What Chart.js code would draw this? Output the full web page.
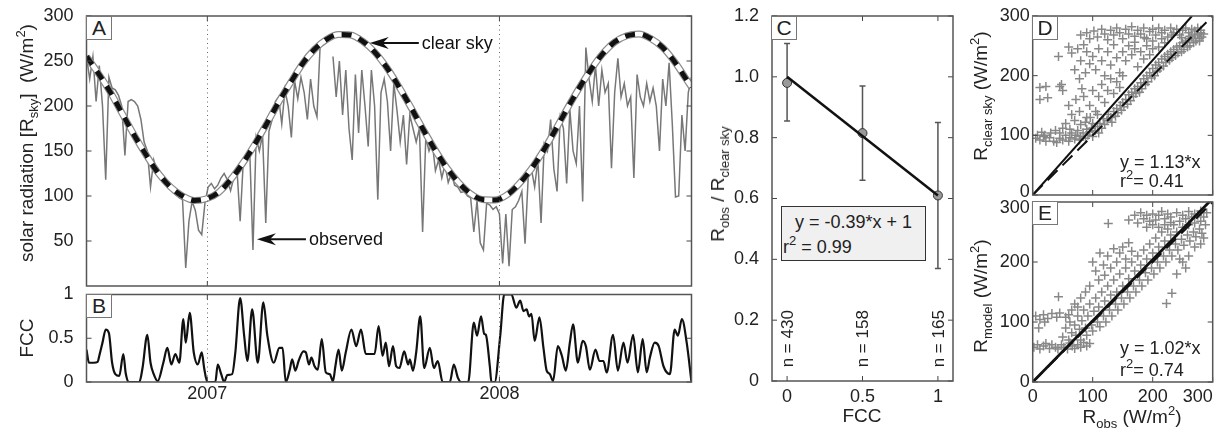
<!DOCTYPE html>
<html>
<head>
<meta charset="utf-8">
<script src="https://cdn.jsdelivr.net/npm/chart.js@4.4.1/dist/chart.umd.min.js"></script>
<style>
  body { margin: 0; background: #fff; }
  #fig { position: relative; width: 1221px; height: 435px; overflow: hidden;
         font-family: "Liberation Sans", Arial, sans-serif; color: #222; }
  #fig canvas { position: absolute; }
  .t { position: absolute; white-space: nowrap; font-size: 18px; line-height: 20px; }
  .c { transform: translate(-50%, -50%); }
  .rot { transform: translate(-50%, -50%) rotate(-90deg); }
  .t sub { font-size: 13px; vertical-align: -5px; line-height: 0; }
  .t sup { font-size: 13px; vertical-align: 8px; line-height: 0; }
  .tag { position: absolute; box-sizing: border-box; width: 26px; height: 24px; border: 1px solid #777;
         background: #fff; font-size: 21px; line-height: 22px; text-align: center; }
  .eq { position: absolute; box-sizing: border-box; left: 781px; top: 206px; width: 145px; height: 55px;
        border: 1px solid #333; background: #f0f0f0; }
</style>
</head>
<body>
<div id="fig">
  <canvas id="chartA" width="700" height="290" style="left:0;top:0"></canvas>
  <canvas id="chartB" width="700" height="155" style="left:0;top:280px"></canvas>
  <canvas id="chartC" width="260" height="435" style="left:700px;top:0"></canvas>
  <canvas id="chartD" width="261" height="215" style="left:960px;top:0"></canvas>
  <canvas id="chartE" width="261" height="245" style="left:960px;top:190px"></canvas>

  <div class="t rot" style="left:27px;top:143px;font-size:19px">solar radiation [R<sub>sky</sub>]&nbsp; (W/m<sup>2</sup>)</div>
  <div class="t rot" style="left:27px;top:338px;font-size:19px">FCC</div>
  <div class="t rot" style="left:718px;top:184px;font-size:19px">R<sub>obs</sub> / R<sub>clear sky</sub></div>
  <div class="t c" style="left:862px;top:416px;font-size:19px">FCC</div>
  <div class="t rot" style="left:981px;top:96px;font-size:19px">R<sub>clear sky</sub> (W/m<sup>2</sup>)</div>
  <div class="t rot" style="left:981px;top:296px;font-size:19px">R<sub>model</sub> (W/m<sup>2</sup>)</div>
  <div class="t c" style="left:1132px;top:417px;font-size:19px">R<sub>obs</sub> (W/m<sup>2</sup>)</div>

  <div class="tag" style="left:86px;top:16px">A</div>
  <div class="tag" style="left:86px;top:294px">B</div>
  <div class="tag" style="left:771px;top:16px">C</div>
  <div class="tag" style="left:1032px;top:16px">D</div>
  <div class="tag" style="left:1032px;top:201px">E</div>

  <div class="eq"></div>
  <div class="t" style="left:795px;top:212px">y = -0.39*x + 1</div>
  <div class="t" style="left:783px;top:237px">r<sup>2</sup> = 0.99</div>
  <div class="t" style="left:1120px;top:152px">y = 1.13*x</div>
  <div class="t" style="left:1120px;top:171px">r<sup>2</sup>= 0.41</div>
  <div class="t" style="left:1120px;top:338px">y = 1.02*x</div>
  <div class="t" style="left:1120px;top:360px">r<sup>2</sup>= 0.74</div>
</div>

<script>
const FONT = '"Liberation Sans", Arial, sans-serif';

// ---- panels A/B: x is days since early Aug 2006 ----
const dayMax = 756;
const yearDays = [151, 516];
const yearLabels = ['2007', '2008'];
const aYTicks = [50, 100, 150, 200, 250, 300];
const bYTicks = [0, 0.5, 1];

// observed radiation, one value every 4 days (null = no data)
const obsStep = 4;
const observed = [
  255, 230, 255, 205, 245, 200, 118, 232, 220, 218,
  212, 200, 145, 205, 207, 205, 200, 185, 160, 150,
  110, 140, 128, 122, 117, 112, 108, 104, 101, 98,
  96, 20, 72, 94, 84, 62, 57, 92, 110, 114,
  108, 112, 120, 125, 118, 106, 120, 130, 72, 140,
  147, 150, 40, 165, 150, 168, 70, 172, 185, 205,
  210, 180, 218, 200, 165, 228, 208, 232, 215, 185,
  230, 200, 188, 268, null, null, null, 255, 210, 250,
  190, 240, 175, 140, 235, 170, 240, 200, 155, 240,
  200, 96, 215, 230, 205, 150, 225, 195, 160, 190,
  135, 190, 175, 160, 175, 60, 165, 150, 160, 128,
  140, 120, 135, 115, 125, 112, 110, 104, 105, 100,
  98, 60, 95, 48, 40, 92, 90, 85, 88, 80,
  25, 80, 22, 85, 88, 95, 105, 47, 122, 130,
  110, 140, 70, 158, 150, 185, 130, 105, 188, 175,
  114, 196, 150, 136, 200, 94, 265, 230, 205, 245,
  200, 240, 215, 225, 131, 215, 253, 210, 225, 200,
  210, 120, 235, 210, 200, 225, 205, 220, 200, 150,
  230, 200, 248, 180, 99, 100, 190, 150, 215, 232
];

const clearDays = [0, 15, 30, 45, 60, 75, 90, 105, 120, 135, 150, 165, 180, 195, 210, 225, 240, 255,
  270, 285, 300, 315, 330, 345, 360, 375, 390, 405, 420, 435, 450, 465, 480, 495, 510, 525, 540,
  555, 570, 585, 600, 615, 630, 645, 660, 675, 690, 705, 720, 735, 750, 756];
const clearSky = [255, 236, 215, 191, 167, 145, 125, 110, 100, 95, 97, 104, 118, 136, 157, 180, 204, 226,
  247, 263, 274, 279.5, 279, 272, 260, 243, 222, 199, 175, 152, 131.5, 115, 102.5, 96, 95.5, 101, 113,
  129, 149, 172, 196, 219, 240, 258, 271, 278, 280, 275, 265, 249, 229, 221];

const fccDays = [0, 3, 9, 14, 16, 20, 24, 28, 32, 36, 41, 46, 49, 53, 66, 70, 76, 80, 84, 89, 96, 101,
  106, 111, 116, 121, 124, 129, 134, 139, 144, 147, 151, 161, 164, 168, 172, 176, 182, 186, 192, 197,
  201, 207, 214, 221, 226, 234, 241, 245, 249, 254, 257, 261, 265, 271, 274, 278, 281, 285, 289, 294,
  299, 304, 308, 311, 315, 319, 324, 331, 337, 343, 349, 360, 365, 370, 374, 378, 383, 387, 391, 397,
  402, 404, 408, 412, 417, 422, 429, 434, 439, 445, 454, 459, 464, 468, 477, 484, 488, 493, 497, 499,
  504, 506, 510, 517, 522, 531, 537, 542, 546, 550, 553, 556, 560, 566, 571, 575, 579, 583, 589, 594,
  599, 604, 608, 614, 620, 624, 629, 636, 641, 646, 650, 658, 664, 671, 676, 683, 689, 695, 700, 704,
  710, 715, 721, 729, 735, 739, 744, 750, 756];
const fcc = [0.37, 0.22, 0.22, 0.23, 0.3, 0.45, 0.6, 0.56, 0.22, 0.09, 0.07, 0.32, 0.1, 0, 0, 0.16, 0.54,
  0.22, 0.09, 0.01, 0.22, 0.39, 0.2, 0.32, 0.22, 0.72, 0.45, 0.79, 0.34, 0.2, 0.34, 0.16, 0, 0, 0.2, 0.1,
  0, 0.08, 0.09, 0.34, 0.96, 0.53, 0.24, 0.83, 0.22, 0.91, 0.53, 0.22, 0.39, 0.39, 0, 0.14, 0.26, 0.13,
  0.24, 0.35, 0.34, 0.2, 0.28, 0.18, 0.14, 0.49, 0.11, 0.09, 0.01, 0.18, 0.37, 0.13, 0.34, 0.6, 0.41,
  0.6, 0.32, 0.32, 0.64, 0.3, 0.45, 0.18, 0.41, 0.18, 0.16, 0.35, 0.2, 0.26, 0.13, 0.34, 0.75, 0.16,
  0.39, 0.16, 0.24, 0, 0, 0.2, 0.05, 0, 0, 0.68, 0.53, 0.75, 0.55, 0.54, 0.18, 0, 0, 0.53, 1, 1, 0.85,
  0.93, 0.81, 0.83, 0.75, 0.78, 0.47, 0.74, 0.39, 0.13, 0.09, 0.01, 0.41, 0.3, 0.13, 0.45, 0.66, 0.22,
  0.47, 0.41, 0.14, 0.37, 0.24, 0.24, 0.11, 0.54, 0.13, 0.45, 0.22, 0.54, 0.11, 0.49, 0.11, 0.28, 0.45,
  0.41, 0.18, 0.09, 0.6, 0.53, 0.72, 0.45, 0];

// arrows in panel A
const noteDays = [354, 213];
const noteValues = [270, 52];
const noteTexts = ['clear sky', 'observed'];

// ---- panel C ----
const cFcc = [0, 0.5, 1];
const cRatio = [0.98, 0.815, 0.61];
const cErrLow = [0.855, 0.66, 0.37];
const cErrHigh = [1.11, 0.97, 0.85];
const cCounts = [430, 158, 165];
const cSlope = -0.39;
const cIntercept = 1;
const cXTicks = [0, 0.5, 1];
const cYTicks = [0, 0.2, 0.4, 0.6, 0.8, 1.0, 1.2];

// ---- panels D/E ----
const sqMax = 300;
const sqTicks = [0, 100, 200, 300];
const dSlope = 1.13;
const eSlope = 1.02;
// [R_obs, R_clear sky]
const dPairs = [
  [5,95],[8,100],[12,92],[15,105],[18,98],[22,90],[28,96],[35,90],[40,88],[45,95],[50,92],[55,100],
  [60,90],[62,96],[65,104],[70,94],[72,100],[75,108],[78,92],[80,98],[84,104],[88,95],[90,110],[92,100],
  [95,106],[98,112],[100,98],[104,108],[108,115],[110,104],
  [112,120],[115,112],[118,128],[120,118],[124,125],[126,135],[130,130],[132,122],[135,140],[138,132],
  [140,145],[142,138],[146,150],[148,142],[150,155],[152,148],[155,160],[158,152],[160,168],[163,158],
  [165,172],[168,165],[170,178],[172,170],[175,182],[178,172],[180,188],[182,178],[185,195],[188,185],
  [190,200],[192,190],[195,205],[198,196],[200,212],[203,200],[205,218],[208,208],[210,222],[212,212],
  [215,228],[218,216],[220,232],[222,222],[225,236],[228,226],[230,240],[232,230],[235,244],[238,234],
  [240,248],[242,238],[245,250],[248,240],[250,255],[252,244],[255,258],[258,248],[260,262],[262,250],
  [265,265],[268,255],[270,268],[272,258],[275,270],[278,262],[280,272],[282,265],
  [80,268],[90,272],[95,262],[102,275],[108,265],[115,278],[120,270],[125,260],[130,276],[135,268],
  [140,280],[145,272],[150,262],[155,278],[160,270],[165,282],[170,266],[175,276],[180,270],[185,280],
  [190,262],[195,274],[200,278],[205,268],[210,280],[215,272],[220,276],[225,265],[230,280],[235,272],
  [240,278],[245,268],[250,276],[255,280],[260,272],[265,278],[270,275],[275,280],[280,276],[285,270],
  [215,262],[232,268],[248,264],[262,266],[278,258],[200,258],[186,264],[170,256],
  [43,232],[12,180],[22,182],[45,182],[12,160],[25,163],[50,175],[48,185],[60,248],[65,238],[75,245],
  [80,225],[85,252],[90,240],[70,210],[78,195],[82,178],[88,205],[95,220],[100,232],[105,210],[110,245],
  [115,225],[120,200],[125,240],[130,218],[135,252],[140,230],[145,205],[150,240],[155,225],[160,250],
  [165,235],[170,245],[175,215],[180,240],[185,228],[190,250],[195,235],[200,245],[210,248],[220,255],
  [60,150],[65,135],[72,160],[78,140],[85,165],[90,130],[95,150],[100,175],[105,140],[110,165],[115,185],
  [120,155],[125,175],[130,195],[135,170],[140,190],[145,180],[150,200],[55,120],[62,110],[70,125],
  [80,118],[88,122],[96,130],[100,120],[108,135],[20,100],[30,104],[38,108],[45,104],[50,112]
];
// [R_obs, R_model]
const ePairs = [
  [2,58],[8,62],[12,55],[18,60],[22,64],[28,56],[32,62],[38,58],[42,55],[48,62],[52,58],[58,55],
  [62,65],[66,60],[70,56],[75,62],[80,58],[85,66],[90,60],[95,64],
  [5,110],[12,104],[18,112],[25,106],[32,114],[40,108],[45,115],[43,142],[20,100],[10,90],
  [50,75],[55,90],[60,70],[62,100],[65,82],[70,95],[72,78],[75,110],[78,88],[80,70],[82,102],[85,120],
  [88,90],[90,78],[92,110],[95,130],[98,95],[100,85],[102,118],[105,140],[108,100],[110,125],[112,92],
  [115,150],[118,110],[120,135],[122,100],[125,160],[128,120],[130,145],[132,110],[135,170],[138,130],
  [140,150],[142,120],[145,180],[148,140],[150,160],[152,130],[155,190],[158,150],[160,172],[162,140],
  [165,200],[168,160],[170,185],[172,150],[175,210],[178,170],[180,195],[182,160],[185,220],[188,182],
  [190,205],[192,170],[195,230],[198,190],[200,215],[202,180],[205,240],[208,200],[210,225],[212,190],
  [215,250],[218,210],[220,235],[222,200],[225,255],[228,220],[230,245],[232,210],[235,262],[238,230],
  [240,250],[242,220],[245,268],[248,238],[250,258],[252,228],[255,272],[258,245],[260,262],[262,235],
  [265,275],[268,250],[270,265],[272,242],[275,278],[278,255],[280,268],[282,248],[285,275],[288,262],
  [160,270],[170,278],[175,265],[180,282],[185,272],[190,278],[195,268],[200,280],[205,270],[210,278],
  [215,284],[220,272],[225,280],[230,275],[240,282],[250,278],[260,284],[270,280],[280,285],[290,282],
  [200,262],[210,258],[220,262],[230,266],[190,258],
  [100,200],[105,185],[112,215],[118,195],[125,210],[130,190],[135,222],[140,200],[145,215],[150,225],
  [155,205],[160,232],[165,218],[126,264],[110,170],[120,178],[95,160],[88,150],[80,140],[75,125],
  [70,130],[65,120],[60,112],[55,108],
  [232,148],[223,131],[240,180],[250,200],[260,210],[270,225],[280,230],[285,240],[255,190],[245,205]
];

// ---- shared setup ----
Chart.defaults.font.family = FONT;
Chart.defaults.font.size = 18;
Chart.defaults.color = '#222';
Chart.defaults.animation = false;
Chart.defaults.responsive = false;
Chart.defaults.events = [];
Chart.defaults.plugins.legend.display = false;
Chart.defaults.plugins.tooltip.enabled = false;

const TICK = 5;

function yAxis(min, max, ticks, width, fmt) {
  return {
    min, max,
    afterBuildTicks: s => { s.ticks = ticks.map(v => ({value: v})); },
    afterFit: s => { s.width = width; s.paddingTop = 0; s.paddingBottom = 0; },
    ticks: {padding: 5, callback: fmt || (v => String(v))},
    grid: {display: false},
    border: {display: false}
  };
}

// matlab-style box with inward ticks on all sides
function boxFrame(xTicks, yTicks, dotted) {
  return {
    id: 'boxFrame',
    afterDatasetsDraw(chart) {
      const {ctx, chartArea: a} = chart;
      const x = chart.scales.x, y = chart.scales.y;
      ctx.save();
      if (dotted) {
        ctx.strokeStyle = '#666';
        ctx.lineWidth = 1;
        ctx.setLineDash([1, 3.5]);
        ctx.beginPath();
        dotted.forEach(v => {
          const p = Math.round(x.getPixelForValue(v)) + 0.5;
          ctx.moveTo(p, a.top);
          ctx.lineTo(p, a.bottom);
        });
        ctx.stroke();
        ctx.setLineDash([]);
      }
      ctx.strokeStyle = '#444';
      ctx.lineWidth = 1;
      ctx.beginPath();
      xTicks.forEach(v => {
        const p = x.getPixelForValue(v);
        ctx.moveTo(p, a.top); ctx.lineTo(p, a.top + TICK);
        ctx.moveTo(p, a.bottom); ctx.lineTo(p, a.bottom - TICK);
      });
      yTicks.forEach(v => {
        const p = y.getPixelForValue(v);
        ctx.moveTo(a.left, p); ctx.lineTo(a.left + TICK, p);
        ctx.moveTo(a.right, p); ctx.lineTo(a.right - TICK, p);
      });
      ctx.stroke();
      ctx.strokeStyle = '#555';
      ctx.lineWidth = 1.5;
      ctx.strokeRect(a.left, a.top, a.right - a.left, a.bottom - a.top);
      ctx.restore();
    }
  };
}

const line = {pointRadius: 0, fill: false, clip: 0};

// ---- A ----
const obsPts = observed.map((v, i) => ({x: i * obsStep, y: v}));
const clearPts = clearDays.map((d, i) => ({x: d, y: clearSky[i]}));

const notesA = {
  id: 'notesA',
  afterDatasetsDraw(chart) {
    const {ctx} = chart;
    const x = chart.scales.x, y = chart.scales.y;
    ctx.save();
    ctx.fillStyle = '#111';
    ctx.strokeStyle = '#111';
    ctx.lineWidth = 2;
    ctx.font = '18px ' + FONT;
    ctx.textBaseline = 'middle';
    noteTexts.forEach((t, i) => {
      const px = x.getPixelForValue(noteDays[i]);
      const py = y.getPixelForValue(noteValues[i]);
      const tail = px + 49;
      ctx.beginPath();
      ctx.moveTo(px + 12, py);
      ctx.lineTo(tail, py);
      ctx.stroke();
      ctx.beginPath();
      ctx.moveTo(px, py);
      ctx.lineTo(px + 19, py - 6);
      ctx.lineTo(px + 13, py);
      ctx.lineTo(px + 19, py + 6);
      ctx.closePath();
      ctx.fill();
      ctx.fillText(t, tail + 3, py + 1);
    });
    ctx.restore();
  }
};

new Chart(document.getElementById('chartA'), {
  type: 'line',
  data: {
    datasets: [
      {data: clearPts, borderColor: '#111', borderWidth: 5, borderDash: [10, 8], cubicInterpolationMode: 'monotone', order: 0, ...line},
      {data: clearPts, borderColor: '#fff', borderWidth: 4.5, cubicInterpolationMode: 'monotone', order: 1, ...line},
      {data: clearPts, borderColor: '#8c8c8c', borderWidth: 7, cubicInterpolationMode: 'monotone', order: 2, ...line},
      {data: obsPts, borderColor: '#777', borderWidth: 1.5, tension: 0, order: 3, ...line}
    ]
  },
  options: {
    layout: {padding: {left: 0, top: 16, right: 8.5, bottom: 4}},
    scales: {
      x: {type: 'linear', min: 0, max: dayMax, display: false},
      y: yAxis(0, 300, aYTicks, 86.5)
    }
  },
  plugins: [boxFrame(yearDays, aYTicks, yearDays), notesA]
});

// ---- B ----
new Chart(document.getElementById('chartB'), {
  type: 'line',
  data: {
    datasets: [{data: fccDays.map((d, i) => ({x: d, y: fcc[i]})), borderColor: '#111', borderWidth: 2.2,
      cubicInterpolationMode: 'monotone', ...line}]
  },
  options: {
    layout: {padding: {left: 0, top: 14.5, right: 8.5, bottom: 0}},
    scales: {
      x: {
        type: 'linear', min: 0, max: dayMax,
        afterBuildTicks: s => { s.ticks = yearDays.map(v => ({value: v})); },
        afterFit: s => { s.height = 53; s.paddingLeft = 0; s.paddingRight = 0; },
        ticks: {callback: (v, i) => yearLabels[i], padding: -7, maxRotation: 0, autoSkip: false},
        grid: {display: false},
        border: {display: false}
      },
      y: yAxis(0, 1, bYTicks, 86.5)
    }
  },
  plugins: [boxFrame(yearDays, bYTicks, yearDays)]
});

// ---- C ----
const notesC = {
  id: 'notesC',
  beforeDatasetsDraw(chart) {
    const {ctx} = chart;
    const x = chart.scales.x, y = chart.scales.y;
    ctx.save();
    ctx.strokeStyle = '#555';
    ctx.lineWidth = 1.5;
    ctx.beginPath();
    cFcc.forEach((f, i) => {
      const px = x.getPixelForValue(f);
      const top = y.getPixelForValue(cErrHigh[i]);
      const bot = y.getPixelForValue(cErrLow[i]);
      ctx.moveTo(px, top); ctx.lineTo(px, bot);
      ctx.moveTo(px - 3, top); ctx.lineTo(px + 3, top);
      ctx.moveTo(px - 3, bot); ctx.lineTo(px + 3, bot);
    });
    ctx.stroke();
    ctx.restore();
  },
  afterDatasetsDraw(chart) {
    const {ctx} = chart;
    const x = chart.scales.x, y = chart.scales.y;
    ctx.save();
    ctx.fillStyle = '#222';
    ctx.font = '17px ' + FONT;
    ctx.textAlign = 'left';
    ctx.textBaseline = 'middle';
    cFcc.forEach((f, i) => {
      ctx.save();
      ctx.translate(x.getPixelForValue(f), y.getPixelForValue(0.045));
      ctx.rotate(-Math.PI / 2);
      ctx.fillText('n = ' + cCounts[i], 0, 1);
      ctx.restore();
    });
    ctx.restore();
  }
};

new Chart(document.getElementById('chartC'), {
  type: 'scatter',
  data: {
    datasets: [
      {type: 'line', data: [cFcc[0], cFcc[cFcc.length - 1]].map(f => ({x: f, y: cIntercept + cSlope * f})),
        borderColor: '#111', borderWidth: 2.5, pointRadius: 0, order: 0},
      {data: cFcc.map((f, i) => ({x: f, y: cRatio[i]})), pointRadius: 4.5, pointBackgroundColor: '#9a9a9a',
        pointBorderColor: '#333', pointBorderWidth: 1, order: 1}
    ]
  },
  options: {
    layout: {padding: {left: 0, top: 16, right: 7, bottom: 0}},
    scales: {
      x: {
        type: 'linear', min: -0.1, max: 1.1,
        afterBuildTicks: s => { s.ticks = cXTicks.map(v => ({value: v})); },
        afterFit: s => { s.height = 54; s.paddingLeft = 0; s.paddingRight = 0; },
        ticks: {callback: v => String(v), padding: -3, maxRotation: 0, autoSkip: false},
        grid: {display: false},
        border: {display: false}
      },
      y: yAxis(0, 1.2, cYTicks, 72, v => v === 0 ? '0' : v.toFixed(1))
    }
  },
  plugins: [boxFrame(cXTicks, cYTicks), notesC]
});

// ---- D / E ----
function sqLabels(yNudge, withX) {
  return {
    id: 'sqLabels',
    afterDraw(chart) {
      const {ctx, chartArea: a} = chart;
      const x = chart.scales.x, y = chart.scales.y;
      ctx.save();
      ctx.fillStyle = '#222';
      ctx.font = '18px ' + FONT;
      ctx.textAlign = 'right';
      ctx.textBaseline = 'middle';
      sqTicks.forEach(v => ctx.fillText(String(v), a.left - 3, y.getPixelForValue(v) + (yNudge[v] || 0)));
      if (withX) {
        ctx.textAlign = 'center';
        sqTicks.forEach(v => {
          const s = String(v);
          const w = ctx.measureText(s).width;
          ctx.fillText(s, Math.min(x.getPixelForValue(v), a.right - w / 2), a.bottom + 15);
        });
      }
      ctx.restore();
    }
  };
}

function scatterPanel(id, pairs, slope, padTop, padBottom, yNudge, withX, fitWidth) {
  new Chart(document.getElementById(id), {
    type: 'scatter',
    data: {
      datasets: [
        {type: 'line', data: [{x: 0, y: 0}, {x: sqMax / slope, y: sqMax}], borderColor: '#111',
          borderWidth: fitWidth, pointRadius: 0, order: 0},
        {type: 'line', data: [{x: 0, y: 0}, {x: sqMax, y: sqMax}], borderColor: '#111', borderWidth: 2,
          borderDash: [14, 7], pointRadius: 0, order: 1},
        {data: pairs.map(p => ({x: p[0], y: p[1]})), pointStyle: 'cross', pointRadius: 4.5,
          borderColor: '#888', borderWidth: 1.5, order: 2}
      ]
    },
    options: {
      layout: {padding: {left: 72.7, top: padTop, right: 8.3, bottom: padBottom}},
      scales: {
        x: {type: 'linear', min: 0, max: sqMax, display: false},
        y: {type: 'linear', min: 0, max: sqMax, display: false}
      }
    },
    plugins: [boxFrame(sqTicks, sqTicks), sqLabels(yNudge, withX)]
  });
}

scatterPanel('chartD', dPairs, dSlope, 16, 20, {0: -3}, false, 2);
scatterPanel('chartE', ePairs, eSlope, 12, 53, {300: 6}, true, 2.8);
</script>
</body>
</html>
